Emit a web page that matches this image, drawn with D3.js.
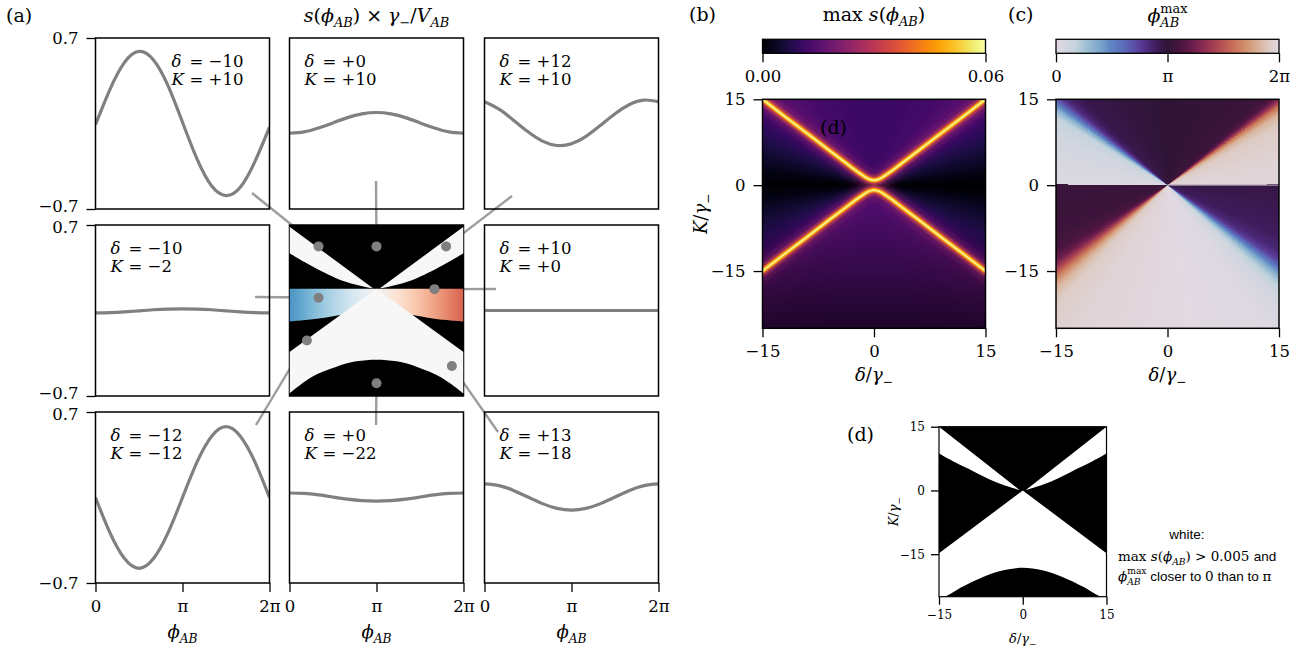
<!DOCTYPE html>
<html>
<head>
<meta charset="utf-8">
<script src="https://cdn.jsdelivr.net/npm/d3@7/dist/d3.min.js"></script>
<style>
  html, body { margin: 0; padding: 0; background: #fff; }
  svg { display: block; }
</style>
</head>
<body>
<svg id="fig" width="1316" height="652"></svg>
<script>
const SERIF = "'DejaVu Serif', 'Liberation Serif', serif";
const SANS = "'Liberation Sans', 'DejaVu Sans', sans-serif";

// ================= data =================
// (a) s(φ_AB)·γ−/V_AB sampled at φ_AB = k·π/6, k = 0..12
const phiStep = [0, 1, 2, 3, 4, 5, 6, 7, 8, 9, 10, 11, 12];
const caseDelta = [-10, 0, 12, -10, 10, -12, 0, 13];
const caseK = [10, 10, 10, -2, 0, -12, -22, -18];
const sDm10Kp10 = [-0.01, 0.28, 0.50, 0.59, 0.52, 0.31, 0.01, -0.29, -0.51, -0.59, -0.52, -0.31, -0.03];
const sD0Kp10 = [-0.080, -0.069, -0.037, 0.005, 0.048, 0.079, 0.090, 0.079, 0.048, 0.005, -0.037, -0.069, -0.080];
const sDp12Kp10 = [0.178, 0.117, 0.027, -0.068, -0.144, -0.180, -0.166, -0.105, -0.015, 0.080, 0.156, 0.192, 0.178];
const sDm10Km2 = [-0.020, -0.018, -0.012, -0.003, 0.006, 0.012, 0.014, 0.012, 0.006, -0.003, -0.012, -0.018, -0.020];
const sDp10K0 = [0, 0, 0, 0, 0, 0, 0, 0, 0, 0, 0, 0, 0];
const sDm12Km12 = [0.00, -0.29, -0.50, -0.58, -0.50, -0.29, 0.00, 0.29, 0.50, 0.58, 0.50, 0.29, 0.00];
const sD0Km22 = [0.037, 0.033, 0.021, 0.004, -0.013, -0.025, -0.029, -0.025, -0.013, 0.004, 0.021, 0.033, 0.037];
const sDp13Km18 = [0.111, 0.097, 0.058, 0.004, -0.050, -0.089, -0.103, -0.089, -0.050, 0.004, 0.058, 0.097, 0.111];
const caseSeries = [sDm10Kp10, sD0Kp10, sDp12Kp10, sDm10Km2, sDp10K0, sDm12Km12, sD0Km22, sDp13Km18];
const phiTickValues = [0, Math.PI, 2 * Math.PI];
const phiTickLabels = ["0", "π", "2π"];
const sTickValues = [-0.7, 0.7];
const detuningTicks = [-15, 0, 15];

// classification map in (a): region boundaries in (δ, K) / γ−
const mapWedgeDelta = [0.6, 1.9, 5.3, 9.9, 12.5, 15];
const mapWedgeLowK = [0.2, 0.5, 1.7, 4.5, 6.4, 8.4];
const mapWedgeTopK = 14.6;
const mapHourglassEdgeK = -14.7;
const mapBottomDelta = [-15, -11.1, -7, -3.5, 0, 3.5, 7, 11.1, 15];
const mapBottomK = [-24.4, -20.5, -18.2, -16.9, -16.5, -16.9, -18.2, -20.6, -24.4];
const mapBandDelta = [-15, -10, -7, -4, 0, 4, 7, 10.3, 15];
const mapBandLowK = [-7.6, -6.9, -6.2, -5.9, -5.8, -5.9, -6.2, -7.0, -7.6];
const mapBandTopK = 0.1;

// (b) ridges of max s(φ_AB)
const ridgeDelta = [-15, -12, -9, -6, -4, -2.5, -1.5, -0.75, 0, 0.75, 1.5, 2.5, 4, 6, 9, 12, 15];
const ridgeUpperK = [15.0, 12.0, 9.05, 6.05, 4.1, 2.6, 1.7, 1.1, 0.85, 1.1, 1.7, 2.6, 4.1, 6.05, 9.05, 12.0, 15.0];
const ridgeLowerK = [-15.0, -12.0, -9.05, -6.05, -4.1, -2.6, -1.7, -1.1, -0.85, -1.1, -1.7, -2.6, -4.1, -6.05, -9.05, -12.0, -15.0];
// (b) background level (fraction of colour range) versus polar angle in the (δ, K) plane
const bAngles = [0, 8, 16, 25, 34, 40, 44, 46, 50, 60, 75, 90, 105, 120, 130, 134, 136, 140, 146, 155, 164, 172, 180,
                 188, 196, 205, 214, 220, 224, 226, 230, 240, 255, 270, 285, 300, 310, 314, 316, 320, 326, 335, 344, 352, 360];
const bLevels = [0, 0.03, 0.07, 0.11, 0.16, 0.21, 0.3, 0.3, 0.25, 0.21, 0.19, 0.18, 0.19, 0.21, 0.25, 0.3, 0.3, 0.21, 0.16, 0.11, 0.07, 0.03, 0,
                 0.03, 0.07, 0.11, 0.16, 0.21, 0.3, 0.3, 0.26, 0.24, 0.23, 0.23, 0.23, 0.24, 0.26, 0.3, 0.3, 0.21, 0.16, 0.11, 0.07, 0.03, 0];
const maxSTicks = [0, 0.06];

// (c) φ_AB^max (in units of 2π) versus polar angle
const cAngles = [0, 20, 35, 40, 43, 45, 47, 50, 70, 90, 110, 128, 131, 133, 135, 137, 139, 142, 150, 165,
                 179.99, 180.01, 210, 218, 222, 225, 228, 231, 235, 245, 270, 300, 308, 311, 313, 315, 317, 319, 323, 330, 350, 360];
const cLevels = [0.99, 0.98, 0.96, 0.91, 0.81, 0.68, 0.58, 0.53, 0.51, 0.5, 0.49, 0.47, 0.44, 0.41, 0.35, 0.26, 0.17, 0.09, 0.05, 0.03,
                 0.02, 0.52, 0.53, 0.56, 0.62, 0.72, 0.84, 0.92, 0.965, 0.985, 0.995, 1.015, 1.05, 1.1, 1.15, 1.22, 1.3, 1.37, 1.42, 1.45, 1.47, 1.48];
const twilightPos = [0, 0.09, 0.14, 0.2, 0.24, 0.3, 0.35, 0.39, 0.45, 0.5, 0.56, 0.6, 0.66, 0.72, 0.78, 0.83, 0.89, 0.95, 1];
const twilightColors = ["#e2d9e2", "#c3d3dd", "#9dbfd2", "#7aa4cc", "#6288c4", "#5b6dbb", "#5d4fa8", "#55348d", "#3f1b5c", "#2f1436",
                        "#4b1540", "#621a4a", "#8a2c52", "#ab4551", "#c36756", "#cd8462", "#d7a88a", "#dcc8be", "#e2d9e2"];
const phaseTickValues = [0, Math.PI, 2 * Math.PI];
const phaseTickLabels = ["0", "π", "2π"];

// (d) white-region boundaries
const dWedgeDelta = [0.5, 1.6, 5.1, 9.9, 12.5, 15];
const dWedgeLowK = [0.05, 0.5, 2.1, 5.2, 6.9, 8.7];
const dWedgeTopK = 15;
const dHourglassEdgeK = -14.8;
const dBottomDelta = [-15, -13.5, -11, -7, -3.5, 0, 3.5, 7, 11, 13.5, 15];
const dBottomK = [-25.3, -24.7, -22.8, -20.3, -18.8, -18.2, -18.8, -20.3, -22.8, -24.7, -25.3];

// ================= layout =================
const colX = [95.5, 289.5, 484.5], rowY = [38, 225, 412], cellW = 174, cellH = 171;
const caseCell = [[0, 0], [0, 1], [0, 2], [1, 0], [1, 2], [2, 0], [2, 1], [2, 2]];
const connectorFrom = [[252, 193], [376, 181], [512, 196], [255, 297], [496, 289], [256, 425], [376, 425], [498, 432]];
const mapBox = { x0: 289.5, x1: 463.5, y0: 225, y1: 396 };
const bBox = { x0: 762.5, x1: 985.5, y0: 99.3, y1: 328.3 };
const cBox = { x0: 1056, x1: 1279, y0: 99.3, y1: 328.3 };
const dBox = { x0: 939, x1: 1106.5, y0: 426.7, y1: 596.7 };
const cbY0 = 39.3, cbY1 = 53.3;
const TICK = 16.5, LABEL = 18, TITLE = 19, TAG = 19;

const svg = d3.select("#fig");
const defs = svg.append("defs");

// ================= helpers =================
function rich(parent, x, y, parts, o = {}) {
  const fs = o.size || LABEL;
  const t = parent.append("text")
    .attr("x", x).attr("y", y)
    .attr("font-family", o.family || SERIF)
    .attr("font-size", fs)
    .attr("fill", "#000")
    .attr("text-anchor", o.anchor || "start");
  if (o.rotate) t.attr("transform", `rotate(${o.rotate},${x},${y})`);
  let level = 0, dxNext = 0, supLen = 0;
  parts.forEach(p => {
    const s = t.append("tspan").text(p.t);
    const off = p.sub ? fs * 0.27 : p.sup ? -fs * 0.5 : 0;
    if (off !== level) { s.attr("dy", off - level); level = off; }
    if (p.sub || p.sup) s.attr("font-size", fs * 0.68);
    if (p.it) s.attr("font-style", "italic");
    if (p.sans) s.attr("font-family", SANS);
    if (dxNext) { s.attr("dx", dxNext); dxNext = 0; }
    const len = s.node().getComputedTextLength();
    if (p.stack) { dxNext = -len; supLen = len; }
    else if (supLen) { if (supLen > len) dxNext = supLen - len; supLen = 0; }
  });
  return t;
}

function styleAxis(g, size, family) {
  g.attr("font-family", null).attr("font-size", null);
  g.select(".domain").remove();
  g.selectAll(".tick line").attr("stroke", "#000").attr("stroke-width", 1.3);
  g.selectAll(".tick text").attr("font-family", family || SERIF).attr("font-size", size).attr("fill", "#000");
}

function frame(parent, b, w) {
  parent.append("rect").attr("x", b.x0).attr("y", b.y0)
    .attr("width", b.x1 - b.x0).attr("height", b.y1 - b.y0)
    .attr("fill", "none").attr("stroke", "#000").attr("stroke-width", w || 1.5);
}

function clipFor(id, b) {
  defs.append("clipPath").attr("id", id).append("rect")
    .attr("x", b.x0).attr("y", b.y0).attr("width", b.x1 - b.x0).attr("height", b.y1 - b.y0);
  return `url(#${id})`;
}

// fan of thin sectors around the origin, coloured by polar angle
function drawWedges(g, xs, ys, colorAt, step) {
  const R = 60, rad = Math.PI / 180;
  const grid = d3.range(0, 360, step);
  g.selectAll("path.w").data(grid).join("path").attr("class", "w")
    .attr("shape-rendering", "crispEdges")
    .attr("d", a => {
      const a0 = (a - step) * rad, a1 = (a + 2 * step) * rad;
      return "M" + xs(0) + "," + ys(0) +
        "L" + xs(R * Math.cos(a0)) + "," + ys(R * Math.sin(a0)) +
        "L" + xs(R * Math.cos(a1)) + "," + ys(R * Math.sin(a1)) + "Z";
    })
    .attr("fill", a => colorAt(a + step / 2));
}

// closed region: straight legs to an edge, then a smooth boundary back
function regionPath(xs, ys, straight, curvePts) {
  const head = straight.map((p, i) => (i ? "L" : "M") + xs(p[0]) + "," + ys(p[1])).join("");
  const curve = d3.line().x(p => xs(p[0])).y(p => ys(p[1])).curve(d3.curveCatmullRom.alpha(0.5))(curvePts);
  return head + "L" + curve.slice(1) + "Z";
}

const signed = v => (v < 0 ? "−" : "+") + Math.abs(v);
const phiAB = [{ t: "ϕ", it: 1 }, { t: "AB", it: 1, sub: 1 }];
const overGamma = [{ t: "/" }, { t: "γ", it: 1 }, { t: "−", sub: 1 }];

// ================= (a) line panels =================
const gA = svg.append("g");
caseSeries.forEach((ser, i) => {
  const [r, c] = caseCell[i];
  const xs = d3.scaleLinear().domain([0, 2 * Math.PI]).range([colX[c], colX[c] + cellW]);
  const ys = d3.scaleLinear().domain([-0.7, 0.7]).range([rowY[r] + cellH, rowY[r]]);
  const clip = clipFor("cell" + i, { x0: colX[c], x1: colX[c] + cellW, y0: rowY[r], y1: rowY[r] + cellH });
  gA.append("path").datum(ser)
    .attr("clip-path", clip)
    .attr("d", d3.line().x((v, j) => xs(phiStep[j] * Math.PI / 6)).y(v => ys(v)).curve(d3.curveNatural))
    .attr("fill", "none").attr("stroke", "#808080").attr("stroke-width", 3.2);
  const tx = colX[c] + (r === 0 && c === 0 ? 76 : 15);
  const y1 = rowY[r] + 29, y2 = rowY[r] + 47;
  const t1 = gA.append("text").attr("font-family", SERIF).attr("font-size", TICK);
  t1.append("tspan").attr("x", tx).attr("y", y1).attr("font-style", "italic").text("δ");
  t1.append("tspan").attr("x", tx + 18).attr("y", y1).text("= " + signed(caseDelta[i]));
  const t2 = gA.append("text").attr("font-family", SERIF).attr("font-size", TICK);
  t2.append("tspan").attr("x", tx).attr("y", y2).attr("font-style", "italic").text("K");
  t2.append("tspan").attr("x", tx + 18).attr("y", y2).text("= " + signed(caseK[i]));
});

// classification map in the centre cell
const mx = d3.scaleLinear().domain([-15, 15]).range([mapBox.x0, mapBox.x1]);
const my = d3.scaleLinear().domain([-25, 15]).range([mapBox.y1, mapBox.y0]);
const bandLevel = d3.scaleLinear().domain([-15, 15]).range([0.8, 0.2]);
const bandGrad = defs.append("linearGradient").attr("id", "bandGrad")
  .attr("gradientUnits", "userSpaceOnUse")
  .attr("x1", mx(-15)).attr("x2", mx(15)).attr("y1", 0).attr("y2", 0);
d3.range(-15, 15.01, 1.5).forEach(d => {
  bandGrad.append("stop").attr("offset", (d + 15) / 30).attr("stop-color", d3.interpolateRdBu(bandLevel(d)));
});
const gMap = svg.append("g").attr("clip-path", clipFor("mapClip", mapBox));
gMap.append("rect").attr("x", mapBox.x0).attr("y", mapBox.y0)
  .attr("width", mapBox.x1 - mapBox.x0).attr("height", mapBox.y1 - mapBox.y0).attr("fill", "#000");
gMap.append("path")
  .attr("d", regionPath(mx, my, [[-15, mapBandTopK], [15, mapBandTopK]],
    mapBandDelta.map((d, j) => [d, mapBandLowK[j]]).reverse()))
  .attr("fill", "url(#bandGrad)");
[-1, 1].forEach(sg => {
  gMap.append("path")
    .attr("d", regionPath(mx, my, [[sg * mapWedgeDelta[0], mapWedgeLowK[0]], [sg * 15, mapWedgeTopK]],
      mapWedgeDelta.map((d, j) => [sg * d, mapWedgeLowK[j]]).reverse()))
    .attr("fill", "#f7f7f7");
});
gMap.append("path")
  .attr("d", regionPath(mx, my, [[15, mapHourglassEdgeK], [0, mapBandTopK], [-15, mapHourglassEdgeK]],
    mapBottomDelta.map((d, j) => [d, mapBottomK[j]])))
  .attr("fill", "#f7f7f7");

// connectors and markers
caseDelta.forEach((d, i) => {
  const px = mx(d), py = my(caseK[i]);
  const [fx, fy] = connectorFrom[i];
  const len = Math.hypot(px - fx, py - fy), gap = 12;
  gA.append("line")
    .attr("x1", fx).attr("y1", fy)
    .attr("x2", px - (px - fx) * gap / len).attr("y2", py - (py - fy) * gap / len)
    .attr("stroke", "#9c9c9c").attr("stroke-width", 2.4);
});
svg.append("g").selectAll("circle").data(caseDelta).join("circle")
  .attr("cx", d => mx(d)).attr("cy", (d, i) => my(caseK[i])).attr("r", 5)
  .attr("fill", "#808080");

// frames and axes of the grid
for (let r = 0; r < 3; r++) for (let c = 0; c < 3; c++) {
  frame(gA, { x0: colX[c], x1: colX[c] + cellW, y0: rowY[r], y1: rowY[r] + cellH });
}
for (let r = 0; r < 3; r++) {
  const ys = d3.scaleLinear().domain([-0.7, 0.7]).range([rowY[r] + cellH, rowY[r]]);
  const ax = gA.append("g").attr("transform", `translate(${colX[0]},0)`)
    .call(d3.axisLeft(ys).tickValues(sTickValues).tickSize(9).tickPadding(8).tickFormat(d3.format(".1f")));
  styleAxis(ax, TICK);
  // keep stacked labels at the row joints apart
  ax.selectAll(".tick text").attr("transform", d => {
    if (d > 0 && r > 0) return "translate(0,2.5)";
    if (d < 0 && r < 2) return "translate(0,-2.5)";
    return null;
  });
}
for (let c = 0; c < 3; c++) {
  const xs = d3.scaleLinear().domain([0, 2 * Math.PI]).range([colX[c], colX[c] + cellW]);
  const ax = gA.append("g").attr("transform", `translate(0,${rowY[2] + cellH})`)
    .call(d3.axisBottom(xs).tickValues(phiTickValues).tickSize(9).tickPadding(8)
      .tickFormat((d, i) => phiTickLabels[i]));
  styleAxis(ax, TICK);
  rich(svg, colX[c] + cellW / 2, 638, phiAB, { anchor: "middle" });
}
rich(svg, 6, 22, [{ t: "(a)" }], { size: TAG });
rich(svg, colX[1] + cellW / 2, 22,
  [{ t: "s", it: 1 }, { t: "(" }, ...phiAB, { t: ")" }, { t: " × " }, { t: "γ", it: 1 }, { t: "−", sub: 1 },
   { t: "/" }, { t: "V", it: 1 }, { t: "AB", it: 1, sub: 1 }],
  { anchor: "middle", size: TITLE });

// ================= (b) max s(φ_AB) =================
const bx = d3.scaleLinear().domain([-15, 15]).range([bBox.x0, bBox.x1]);
const by = d3.scaleLinear().domain([-25, 15]).range([bBox.y1, bBox.y0]);
const bLevel = d3.scaleLinear().domain(bAngles).range(bLevels);
const gB = svg.append("g").attr("clip-path", clipFor("bClip", bBox));
gB.append("rect").attr("x", bBox.x0).attr("y", bBox.y0).attr("width", bBox.x1 - bBox.x0)
  .attr("height", bBox.y1 - bBox.y0).attr("fill", d3.interpolateInferno(0.15));
drawWedges(gB, bx, by, a => d3.interpolateInferno(bLevel(a)), 0.5);
const fade = defs.append("linearGradient").attr("id", "bFade")
  .attr("gradientUnits", "userSpaceOnUse").attr("x1", 0).attr("x2", 0)
  .attr("y1", by(-4)).attr("y2", by(-25));
fade.append("stop").attr("offset", 0).attr("stop-color", "#000").attr("stop-opacity", 0);
fade.append("stop").attr("offset", 1).attr("stop-color", "#000").attr("stop-opacity", 0.62);
gB.append("rect").attr("x", bBox.x0).attr("y", by(-4)).attr("width", bBox.x1 - bBox.x0)
  .attr("height", by(-25) - by(-4)).attr("fill", "url(#bFade)");
[4, 1.6, 0.7, 0.3].forEach((s, i) => {
  defs.append("filter").attr("id", "blur" + i).attr("x", "-20%").attr("y", "-20%")
    .attr("width", "140%").attr("height", "140%")
    .append("feGaussianBlur").attr("stdDeviation", s);
});
const ridgeLayers = [
  { w: 16, t: 0.38, op: 0.55 },
  { w: 8, t: 0.6, op: 0.9 },
  { w: 4.5, t: 0.8, op: 1 },
  { w: 1.8, t: 0.97, op: 1 }
];
const ridgeLine = d3.line().x((d, j) => bx(ridgeDelta[j])).y(k => by(k)).curve(d3.curveCatmullRom.alpha(0.5));
ridgeLayers.forEach((L, i) => {
  [ridgeUpperK, ridgeLowerK].forEach(rk => {
    gB.append("path").datum(rk).attr("d", ridgeLine)
      .attr("fill", "none").attr("stroke", d3.interpolateInferno(L.t))
      .attr("stroke-width", L.w).attr("stroke-opacity", L.op)
      .attr("stroke-linecap", "round")
      .attr("filter", `url(#blur${i})`);
  });
});
frame(svg, bBox, 1.5);
const bAxL = svg.append("g").attr("transform", `translate(${bBox.x0},0)`)
  .call(d3.axisLeft(by).tickValues(detuningTicks).tickSize(9).tickPadding(8).tickFormat(d3.format("d")));
styleAxis(bAxL, TICK);
const bAxB = svg.append("g").attr("transform", `translate(0,${bBox.y1})`)
  .call(d3.axisBottom(bx).tickValues(detuningTicks).tickSize(9).tickPadding(8).tickFormat(d3.format("d")));
styleAxis(bAxB, TICK);
rich(svg, (bBox.x0 + bBox.x1) / 2, 381, [{ t: "δ", it: 1 }, ...overGamma], { anchor: "middle" });
rich(svg, 707, (bBox.y0 + bBox.y1) / 2, [{ t: "K", it: 1 }, ...overGamma], { anchor: "middle", rotate: -90 });
rich(svg, 820, 134, [{ t: "(d)" }], { size: TAG });
rich(svg, 689, 21, [{ t: "(b)" }], { size: TAG });

// colour bar (b)
const infGrad = defs.append("linearGradient").attr("id", "infGrad");
d3.range(0, 1.0001, 0.05).forEach(t => infGrad.append("stop").attr("offset", t).attr("stop-color", d3.interpolateInferno(t)));
svg.append("rect").attr("x", bBox.x0).attr("y", cbY0).attr("width", bBox.x1 - bBox.x0).attr("height", cbY1 - cbY0)
  .attr("fill", "url(#infGrad)").attr("stroke", "#000").attr("stroke-width", 1.3);
const sCb = d3.scaleLinear().domain([0, 0.06]).range([bBox.x0, bBox.x1]);
const bCbAx = svg.append("g").attr("transform", `translate(0,${cbY1})`)
  .call(d3.axisBottom(sCb).tickValues(maxSTicks).tickSize(9).tickPadding(8).tickFormat(d3.format(".2f")));
styleAxis(bCbAx, TICK);
rich(svg, (bBox.x0 + bBox.x1) / 2, 21,
  [{ t: "max " }, { t: "s", it: 1 }, { t: "(" }, ...phiAB, { t: ")" }], { anchor: "middle", size: TITLE });

// ================= (c) φ_AB^max =================
const cx = d3.scaleLinear().domain([-15, 15]).range([cBox.x0, cBox.x1]);
const cy = d3.scaleLinear().domain([-25, 15]).range([cBox.y1, cBox.y0]);
const twilight = d3.scaleLinear().domain(twilightPos).range(twilightColors).interpolate(d3.interpolateRgb);
const cLevel = d3.scaleLinear().domain(cAngles).range(cLevels);
const gC = svg.append("g").attr("clip-path", clipFor("cClip", cBox));
gC.append("rect").attr("x", cBox.x0).attr("y", cBox.y0).attr("width", cBox.x1 - cBox.x0)
  .attr("height", cBox.y1 - cBox.y0).attr("fill", twilightColors[0]);
drawWedges(gC, cx, cy, a => twilight(((cLevel(a) % 1) + 1) % 1), 0.5);
gC.append("line").attr("x1", cx(0)).attr("x2", cx(15)).attr("y1", cy(0)).attr("y2", cy(0))
  .attr("stroke", "#a795a8").attr("stroke-width", 1.2);
frame(svg, cBox, 1.5);
const cAxL = svg.append("g").attr("transform", `translate(${cBox.x0},0)`)
  .call(d3.axisLeft(cy).tickValues(detuningTicks).tickSize(9).tickPadding(8).tickFormat(d3.format("d")));
styleAxis(cAxL, TICK);
const cAxB = svg.append("g").attr("transform", `translate(0,${cBox.y1})`)
  .call(d3.axisBottom(cx).tickValues(detuningTicks).tickSize(9).tickPadding(8).tickFormat(d3.format("d")));
styleAxis(cAxB, TICK);
rich(svg, (cBox.x0 + cBox.x1) / 2, 381, [{ t: "δ", it: 1 }, ...overGamma], { anchor: "middle" });
rich(svg, 1008, 21, [{ t: "(c)" }], { size: TAG });

const twGrad = defs.append("linearGradient").attr("id", "twGrad");
twilightPos.forEach((p, i) => twGrad.append("stop").attr("offset", p).attr("stop-color", twilightColors[i]));
svg.append("rect").attr("x", cBox.x0).attr("y", cbY0).attr("width", cBox.x1 - cBox.x0).attr("height", cbY1 - cbY0)
  .attr("fill", "url(#twGrad)").attr("stroke", "#000").attr("stroke-width", 1.3);
const pCb = d3.scaleLinear().domain([0, 2 * Math.PI]).range([cBox.x0, cBox.x1]);
const cCbAx = svg.append("g").attr("transform", `translate(0,${cbY1})`)
  .call(d3.axisBottom(pCb).tickValues(phaseTickValues).tickSize(9).tickPadding(8)
    .tickFormat((d, i) => phaseTickLabels[i]));
styleAxis(cCbAx, TICK);
rich(svg, (cBox.x0 + cBox.x1) / 2, 22,
  [{ t: "ϕ", it: 1 }, { t: "max", sup: 1, stack: 1 }, { t: "AB", it: 1, sub: 1 }], { anchor: "middle", size: TITLE });

// ================= (d) classification =================
const dx = d3.scaleLinear().domain([-15, 15]).range([dBox.x0, dBox.x1]);
const dy = d3.scaleLinear().domain([-25, 15]).range([dBox.y1, dBox.y0]);
const gD = svg.append("g").attr("clip-path", clipFor("dClip", dBox));
gD.append("rect").attr("x", dBox.x0).attr("y", dBox.y0)
  .attr("width", dBox.x1 - dBox.x0).attr("height", dBox.y1 - dBox.y0).attr("fill", "#000");
[-1, 1].forEach(sg => {
  gD.append("path")
    .attr("d", regionPath(dx, dy, [[sg * dWedgeDelta[0], dWedgeLowK[0]], [sg * 15, dWedgeTopK]],
      dWedgeDelta.map((d, j) => [sg * d, dWedgeLowK[j]]).reverse()))
    .attr("fill", "#fff");
});
gD.append("path")
  .attr("d", regionPath(dx, dy, [[15, dHourglassEdgeK], [0, 0], [-15, dHourglassEdgeK]],
    dBottomDelta.map((d, j) => [d, dBottomK[j]])))
  .attr("fill", "#fff");
frame(svg, dBox, 1.2);
const dAxL = svg.append("g").attr("transform", `translate(${dBox.x0},0)`)
  .call(d3.axisLeft(dy).tickValues(detuningTicks).tickSize(8).tickPadding(6).tickFormat(d3.format("d")));
styleAxis(dAxL, 12);
const dAxB = svg.append("g").attr("transform", `translate(0,${dBox.y1})`)
  .call(d3.axisBottom(dx).tickValues(detuningTicks).tickSize(8).tickPadding(6).tickFormat(d3.format("d")));
styleAxis(dAxB, 12);
rich(svg, (dBox.x0 + dBox.x1) / 2, 643, [{ t: "δ", it: 1 }, ...overGamma], { anchor: "middle", size: 13 });
rich(svg, 898, (dBox.y0 + dBox.y1) / 2, [{ t: "K", it: 1 }, ...overGamma], { anchor: "middle", size: 13, rotate: -90 });
rich(svg, 847, 441, [{ t: "(d)" }], { size: TAG });
rich(svg, 1187, 539, [{ t: "white:", sans: 1 }], { anchor: "middle", size: 13.5 });
rich(svg, 1118, 561,
  [{ t: "max " }, { t: "s", it: 1 }, { t: "(" }, ...phiAB, { t: ") > 0.005 " }, { t: "and", sans: 1 }], { size: 13.5 });
rich(svg, 1118, 581,
  [{ t: "ϕ", it: 1 }, { t: "max", sup: 1, stack: 1 }, { t: "AB", it: 1, sub: 1 }, { t: " closer to ", sans: 1 },
   { t: "0" }, { t: " than to ", sans: 1 }, { t: "π" }], { size: 13.5 });
</script>
</body>
</html>
